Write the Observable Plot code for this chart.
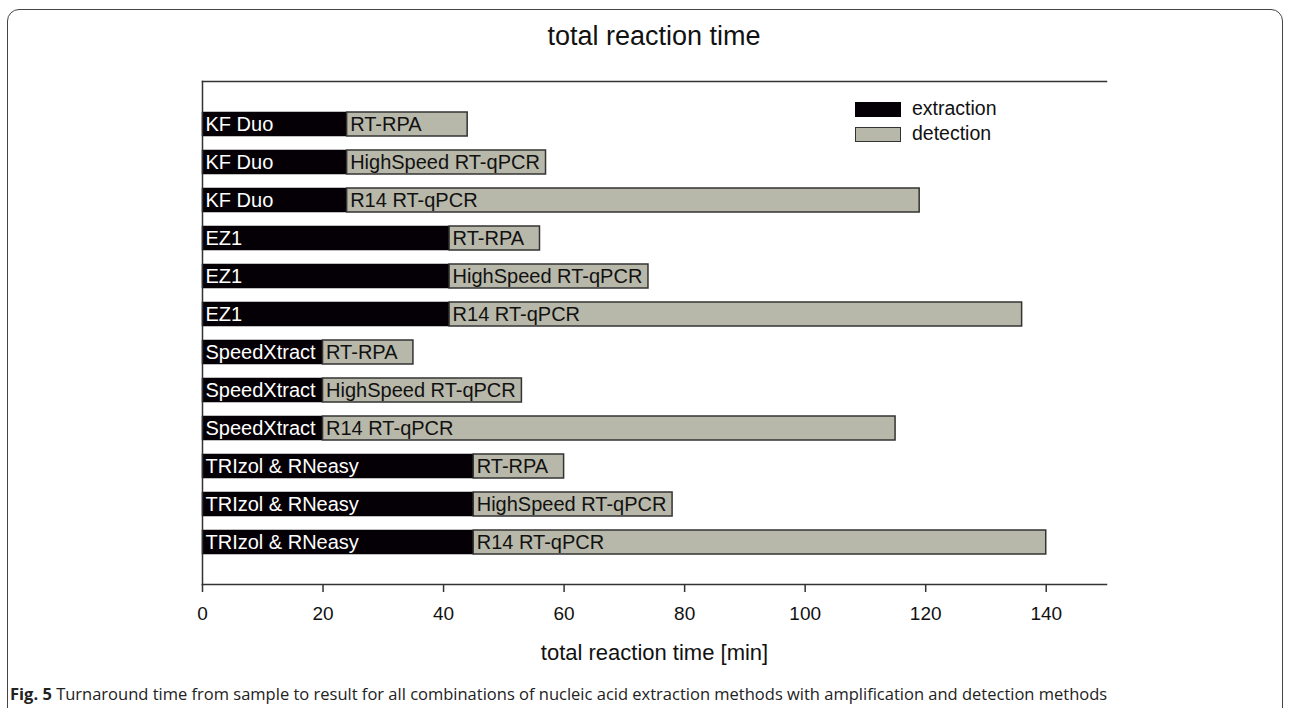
<!DOCTYPE html>
<html>
<head>
<meta charset="utf-8">
<script src="https://cdn.jsdelivr.net/npm/d3@7"></script>
<script src="https://cdn.jsdelivr.net/npm/@observablehq/plot@0.6"></script>
<style>
  html, body { margin: 0; padding: 0; background: #fff; width: 1290px; height: 708px; overflow: hidden; }
  #frame { position: absolute; left: 7px; top: 9px; width: 1276px; height: 800px; border: 1.5px solid #444; border-radius: 12px; box-sizing: border-box; }
  #chart { position: absolute; left: 0; top: 0; }
  #title { position: absolute; left: 0; width: 1308px; top: 21px; text-align: center; font-family: "Liberation Sans", Arial, sans-serif; font-size: 27px; color: #111; }
  .leg { position: absolute; font-family: "Liberation Sans", Arial, sans-serif; font-size: 19.5px; color: #111; line-height: 15px; }
  .sw { position: absolute; width: 46px; height: 15px; box-sizing: border-box; }
  #caption { position: absolute; left: 10px; top: 682px; font-family: "Open Sans", sans-serif; font-size: 16.5px; color: #222; white-space: nowrap; }
</style>
</head>
<body>
<div id="frame"></div>
<div id="chart"></div>
<div id="title">total reaction time</div>
<div class="sw" style="left:855px; top:102px; background:#050005; border:1px solid #050005;"></div>
<div class="leg" style="left:912px; top:101px;">extraction</div>
<div class="sw" style="left:855px; top:127px; background:#b8b8aa; border:1.5px solid #333;"></div>
<div class="leg" style="left:912px; top:126px;">detection</div>
<div id="caption"><b>Fig. 5</b> Turnaround time from sample to result for all combinations of nucleic acid extraction methods with amplification and detection methods</div>
<script>
// Data
const extractionMethods = ["KF Duo", "EZ1", "SpeedXtract", "TRIzol & RNeasy"];
const extractionTimes = [24, 41, 20, 45];
const detectionMethods = ["RT-RPA", "HighSpeed RT-qPCR", "R14 RT-qPCR"];
// total time (extraction + detection) per extraction method, in order of detectionMethods
const totalTimes = [
  [44, 57, 119],
  [56, 74, 136],
  [35, 53, 115],
  [60, 78, 140]
];
const xTicks = [0, 20, 40, 60, 80, 100, 120, 140];

const rows = [];
extractionMethods.forEach((m, i) => {
  detectionMethods.forEach((d, j) => {
    rows.push({
      id: String(rows.length),
      extraction: m,
      detection: d,
      extractionEnd: extractionTimes[i],
      total: totalTimes[i][j]
    });
  });
});

const font = "Liberation Sans, Arial, sans-serif";

const plot = Plot.plot({
  width: 1290,
  height: 690,
  marginLeft: 202,
  marginRight: 184,
  marginTop: 81,
  marginBottom: 106,
  style: { fontFamily: font, background: "transparent", color: "#111" },
  x: { domain: [0, 150], ticks: xTicks },
  y: { domain: rows.map(d => d.id), paddingInner: 0.38, paddingOuter: 0.8, axis: null },
  marks: [
    Plot.barX(rows, { y: "id", x1: 0, x2: "extractionEnd", fill: "#050005", stroke: "#050005", strokeWidth: 0.5 }),
    Plot.barX(rows, { y: "id", x1: "extractionEnd", x2: "total", fill: "#b8b8aa", stroke: "#333", strokeWidth: 1.5 }),
    Plot.text(rows, { y: "id", x: 0, text: "extraction", textAnchor: "start", dx: 3, fill: "#fff", fontSize: 20 }),
    Plot.text(rows, { y: "id", x: "extractionEnd", text: "detection", textAnchor: "start", dx: 3, fill: "#111", fontSize: 20 }),
    Plot.frame({ anchor: "top", stroke: "#333", strokeWidth: 1.5 }),
    Plot.frame({ anchor: "bottom", stroke: "#333", strokeWidth: 1.5 }),
    Plot.frame({ anchor: "left", stroke: "#333", strokeWidth: 1.5 }),
    Plot.axisX({ ticks: xTicks, tickSize: 8, tickPadding: 14, fontSize: 19, label: null, stroke: "#333", strokeWidth: 1.5 }),
    Plot.text(["total reaction time [min]"], { frameAnchor: "bottom", dy: 75, fontSize: 22, fill: "#111" })
  ]
});
document.getElementById("chart").appendChild(plot);
</script>
</body>
</html>
